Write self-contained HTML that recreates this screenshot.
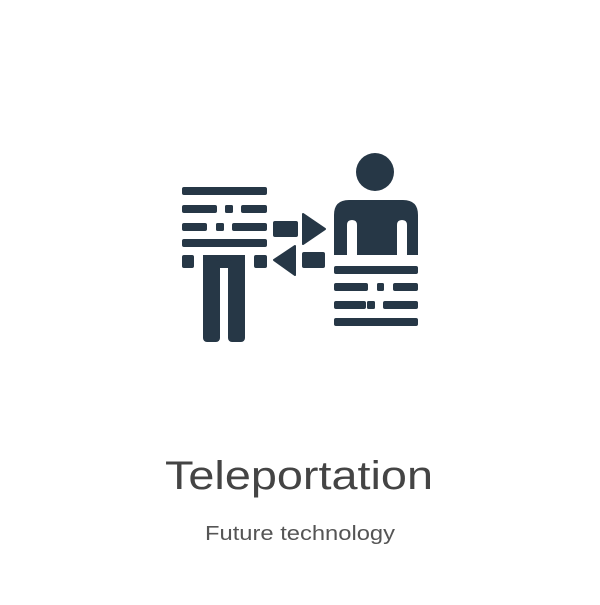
<!DOCTYPE html>
<html><head><style>html,body{margin:0;padding:0;background:#fff}</style></head>
<body>
<svg width="600" height="600" viewBox="0 0 600 600" xmlns="http://www.w3.org/2000/svg">
<g fill="#263746">
<!-- left figure -->
<rect x="182" y="187" width="85" height="8" rx="2"/>
<rect x="182" y="205" width="35" height="8" rx="2"/>
<rect x="225" y="205" width="8" height="8" rx="1.5"/>
<rect x="241" y="205" width="26" height="8" rx="2"/>
<rect x="182" y="223" width="25" height="8" rx="2"/>
<rect x="216" y="223" width="8" height="8" rx="1.5"/>
<rect x="232" y="223" width="35" height="8" rx="2"/>
<rect x="182" y="239" width="85" height="8" rx="2"/>
<rect x="182" y="255" width="12" height="13" rx="2"/>
<rect x="254" y="255" width="13" height="13" rx="2"/>
<rect x="203" y="255" width="42" height="13"/>
<rect x="203" y="260" width="17" height="82" rx="4"/>
<rect x="228" y="260" width="17" height="82" rx="4"/>
<!-- arrows -->
<rect x="273" y="221" width="25" height="16" rx="2"/>
<path d="M303 214 L325 229 L303 244 Z" stroke="#263746" stroke-width="2" stroke-linejoin="round"/>
<path d="M295 246 L274 260 L295 275 Z" stroke="#263746" stroke-width="2" stroke-linejoin="round"/>
<rect x="302" y="252" width="23" height="16" rx="2"/>
<!-- right figure -->
<circle cx="375" cy="172" r="19"/>
<path d="M334 255 V215 Q334 200 349 200 H403 Q418 200 418 215 V255 H407 V225 Q407 220 402 220 Q397 220 397 225 V255 H357 V225 Q357 220 352 220 Q347 220 347 225 V255 Z"/>
<rect x="334" y="266" width="84" height="8" rx="2"/>
<rect x="334" y="283" width="34" height="8" rx="2"/>
<rect x="377" y="283" width="7" height="8" rx="1.5"/>
<rect x="393" y="283" width="25" height="8" rx="2"/>
<rect x="334" y="301" width="32" height="8" rx="2"/>
<rect x="367" y="301" width="8" height="8" rx="1.5"/>
<rect x="383" y="301" width="35" height="8" rx="2"/>
<rect x="334" y="318" width="84" height="8" rx="2"/>
</g>
<text x="299" y="489" text-anchor="middle" font-family="Liberation Sans, sans-serif" font-size="40" fill="#444" textLength="268" lengthAdjust="spacingAndGlyphs">Teleportation</text>
<text x="300" y="540" text-anchor="middle" font-family="Liberation Sans, sans-serif" font-size="20" fill="#555" textLength="190" lengthAdjust="spacingAndGlyphs">Future technology</text>
</svg>
</body></html>
